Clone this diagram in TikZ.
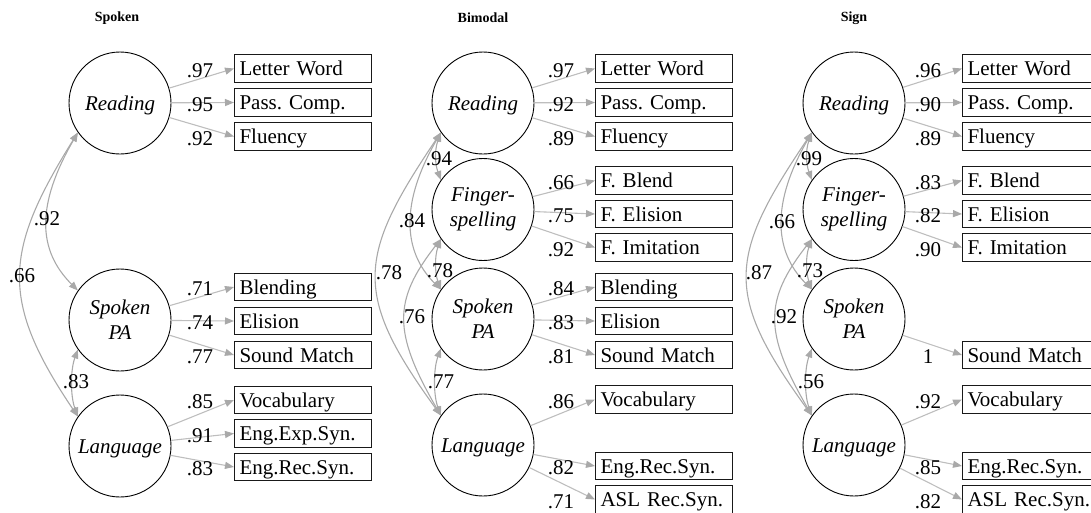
\documentclass[tikz,border=0pt]{standalone}
\usepackage{fontspec}
\setmainfont{Liberation Serif}
\usetikzlibrary{arrows.meta,calc}
\definecolor{lgray}{HTML}{BEBEBE}
\definecolor{agray}{HTML}{A9A9A9}
\newcommand\myld[3]{\draw[load] (#1) -- (#2.west); \node[lab] at ($(#2.west)+(-34,-1.5)$) {#3};}
\frenchspacing
\begin{document}
\begin{tikzpicture}[x=1pt,y=1pt,
  lat/.style={circle,draw=black,line width=0.9pt,minimum size=102pt,inner sep=0pt,font=\fontsize{21}{25}\selectfont\itshape,align=center},
  latone/.style={lat,text height=14pt,text depth=0pt},
  obs/.style={draw=black!90,line width=1pt,minimum height=27.5pt,text width=127pt,inner xsep=5pt,inner ysep=0pt,align=left,text height=14pt,text depth=0pt,font=\fontsize{21}{25}\selectfont,anchor=west},
  load/.style={draw=lgray,line width=1.1pt,-{Triangle[length=9pt,width=7pt,color=agray]}},
  cov/.style={draw=agray,line width=1.1pt,{Triangle[length=9pt,width=7pt,color=agray]}-{Triangle[length=9pt,width=7pt,color=agray]}},
  lab/.style={font=\fontsize{21}{25}\selectfont,inner sep=0pt,text height=14pt,text depth=0pt},
  ttl/.style={font=\fontsize{14}{16}\selectfont\bfseries}
]
\useasboundingbox (0,0) rectangle (1091,-512);
\clip (0,0) rectangle (1091,-512);

% titles
\node[ttl] (t1) at (117,-18) {Spoken};
\node[ttl] (t2) at (483,-18) {Bimodal};
\node[ttl] (t3) at (854,-18) {Sign};

% ---------- Spoken ----------
\node[latone] (sR) at (120,-103) {Reading};
\node[lat] (sP) at (120,-320) {Spoken\\PA};
\node[latone] (sL) at (120,-446) {Language};
\node[obs] (sLW) at (234,-68.5) {Letter Word};
\node[obs] (sPC) at (234,-102.5) {Pass. Comp.};
\node[obs] (sFl) at (234,-136.5) {Fluency};
\node[obs] (sBl) at (234,-287) {Blending};
\node[obs] (sEl) at (234,-321) {Elision};
\node[obs] (sSM) at (234,-355) {Sound Match};
\node[obs] (sVo) at (234,-400) {Vocabulary};
\node[obs] (sEE) at (234,-433.5) {Eng.Exp.Syn.};
\node[obs] (sER) at (234,-467) {Eng.Rec.Syn.};
\myld{sR}{sLW}{.97}
\myld{sR}{sPC}{.95}
\myld{sR}{sFl}{.92}
\myld{sP}{sBl}{.71}
\myld{sP}{sEl}{.74}
\myld{sP}{sSM}{.77}
\myld{sL}{sVo}{.85}
\myld{sL}{sEE}{.91}
\myld{sL}{sER}{.83}
\draw[cov] (sR.215) .. controls +(240:84) and +(135:57) .. (sP.145);
\draw[cov] (sR.215) .. controls +(238:140) and +(124:140) .. (sL.145);
\draw[cov] (sP.215) .. controls +(250:22) and +(110:22) .. (sL.145);
\node[lab] (s1) at (47,-218) {.92};
\node[lab] (s2) at (22,-275) {.66};
\node[lab] (s3) at (76,-381) {.83};

% ---------- Bimodal ----------
\node[latone] (bR) at (483,-103) {Reading};
\node[lat] (bF) at (483,-209.5) {Finger-\\spelling};
\node[lat] (bP) at (483,-319) {Spoken\\PA};
\node[latone] (bL) at (483,-445) {Language};
\node[obs] (bLW) at (595,-68.5) {Letter Word};
\node[obs] (bPC) at (595,-102.5) {Pass. Comp.};
\node[obs] (bFl) at (595,-136.5) {Fluency};
\node[obs] (bFB) at (595,-180.5) {F. Blend};
\node[obs] (bFE) at (595,-214) {F. Elision};
\node[obs] (bFI) at (595,-247.5) {F. Imitation};
\node[obs] (bBl) at (595,-287) {Blending};
\node[obs] (bEl) at (595,-321) {Elision};
\node[obs] (bSM) at (595,-355) {Sound Match};
\node[obs] (bVo) at (595,-399.5) {Vocabulary};
\node[obs] (bER) at (595,-466) {Eng.Rec.Syn.};
\node[obs] (bAS) at (595,-499.5) {ASL Rec.Syn.};
\myld{bR}{bLW}{.97}
\myld{bR}{bPC}{.92}
\myld{bR}{bFl}{.89}
\myld{bF}{bFB}{.66}
\myld{bF}{bFE}{.75}
\myld{bF}{bFI}{.92}
\myld{bP}{bBl}{.84}
\myld{bP}{bEl}{.83}
\myld{bP}{bSM}{.81}
\myld{bL}{bVo}{.86}
\myld{bL}{bER}{.82}
\myld{bL}{bAS}{.71}
\draw[cov] (bR.215) .. controls +(250:18) and +(110:18) .. (bF.145);
\draw[cov] (bR.215) .. controls +(240:80) and +(135:55) .. (bP.145);
\draw[cov] (bR.215) .. controls +(236:150) and +(126:150) .. (bL.145);
\draw[cov] (bF.215) .. controls +(250:18) and +(110:18) .. (bP.145);
\draw[cov] (bF.215) .. controls +(232:78) and +(120:96) .. (bL.145);
\draw[cov] (bP.215) .. controls +(250:22) and +(110:22) .. (bL.145);
\node[lab] (b1) at (439,-158) {.94};
\node[lab] (b2) at (412,-220) {.84};
\node[lab] (b3) at (389,-272) {.78};
\node[lab] (b4) at (440,-270) {.78};
\node[lab] (b5) at (412,-316) {.76};
\node[lab] (b6) at (441,-381) {.77};

% ---------- Sign ----------
\node[latone] (gR) at (854,-103) {Reading};
\node[lat] (gF) at (854,-209.5) {Finger-\\spelling};
\node[lat] (gP) at (854,-319) {Spoken\\PA};
\node[latone] (gL) at (854,-445) {Language};
\node[obs] (gLW) at (962,-68.5) {Letter Word};
\node[obs] (gPC) at (962,-102.5) {Pass. Comp.};
\node[obs] (gFl) at (962,-136.5) {Fluency};
\node[obs] (gFB) at (962,-180.5) {F. Blend};
\node[obs] (gFE) at (962,-214) {F. Elision};
\node[obs] (gFI) at (962,-247.5) {F. Imitation};
\node[obs] (gSM) at (962,-355) {Sound Match};
\node[obs] (gVo) at (962,-399.5) {Vocabulary};
\node[obs] (gER) at (962,-466) {Eng.Rec.Syn.};
\node[obs] (gAS) at (962,-499.5) {ASL Rec.Syn.};
\myld{gR}{gLW}{.96}
\myld{gR}{gPC}{.90}
\myld{gR}{gFl}{.89}
\myld{gF}{gFB}{.83}
\myld{gF}{gFE}{.82}
\myld{gF}{gFI}{.90}
\myld{gP}{gSM}{1}
\myld{gL}{gVo}{.92}
\myld{gL}{gER}{.85}
\myld{gL}{gAS}{.82}
\draw[cov] (gR.215) .. controls +(250:18) and +(110:18) .. (gF.145);
\draw[cov] (gR.215) .. controls +(240:80) and +(135:55) .. (gP.145);
\draw[cov] (gR.215) .. controls +(236:150) and +(126:150) .. (gL.145);
\draw[cov] (gF.215) .. controls +(250:18) and +(110:18) .. (gP.145);
\draw[cov] (gF.215) .. controls +(232:78) and +(120:96) .. (gL.145);
\draw[cov] (gP.215) .. controls +(250:22) and +(110:22) .. (gL.145);
\node[lab] (g1) at (809,-158) {.99};
\node[lab] (g2) at (782,-221) {.66};
\node[lab] (g3) at (759,-272) {.87};
\node[lab] (g4) at (810,-270) {.73};
\node[lab] (g5) at (784,-316) {.92};
\node[lab] (g6) at (811,-381) {.56};
\end{tikzpicture}
\end{document}
